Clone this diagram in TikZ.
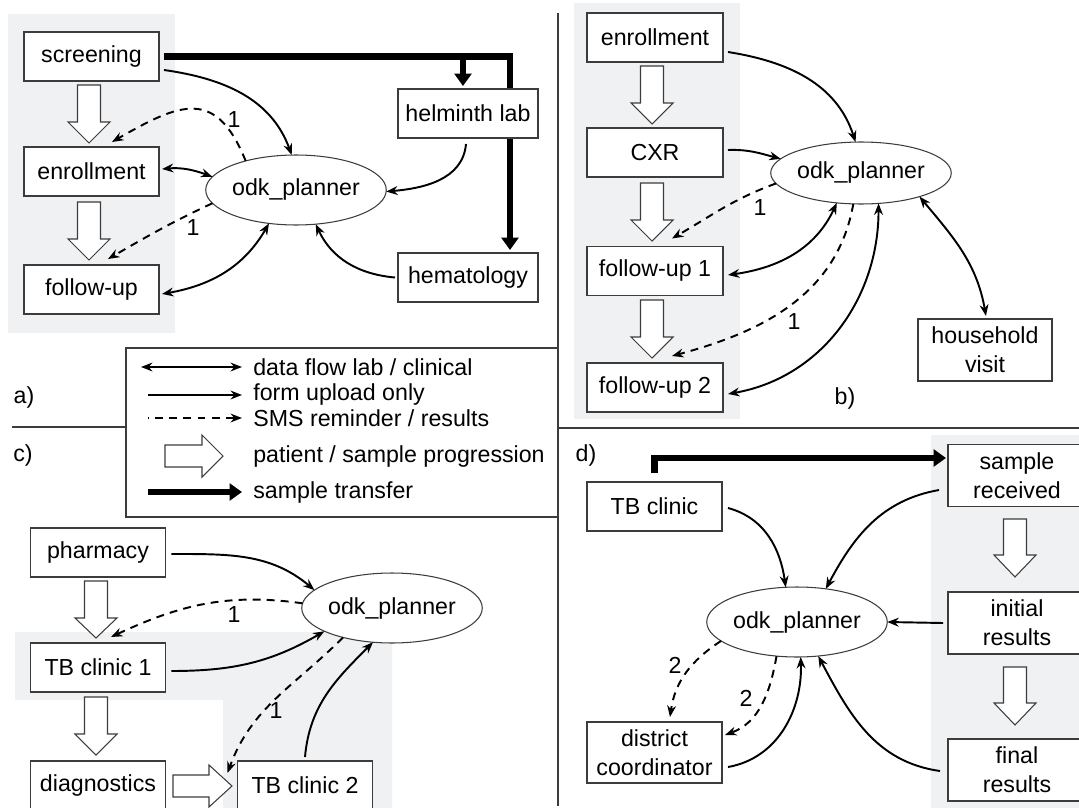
\documentclass[tikz,border=0pt]{standalone}
\usepackage{fontspec}
\setmainfont{Liberation Sans}
\usetikzlibrary{arrows.meta,shapes.geometric}
\pgfdeclarelayer{bg}
\pgfsetlayers{bg,main}
\definecolor{greybg}{RGB}{240,241,243}
\definecolor{linegrey}{RGB}{60,60,60}
\newcommand{\fs}{\fontsize{13.2}{16.5}\selectfont}
% hollow progression arrows (page px, y down)
\newcommand{\hollowdn}[4]{%
  \draw[hollow] (#1-11.5,-#2) -- (#1+11.5,-#2) -- (#1+11.5,-#3) -- (#1+21,-#3) -- (#1,-#4) -- (#1-21,-#3) -- (#1-11.5,-#3) -- cycle;}
\newcommand{\hollowrt}[4]{%
  \draw[hollow] (#2,-#1+11) -- (#3,-#1+11) -- (#3,-#1+21) -- (#4,-#1) -- (#3,-#1-21) -- (#3,-#1-11) -- (#2,-#1-11) -- cycle;}
\tikzset{
  box/.style={draw=linegrey, line width=0.6pt, fill=white, minimum width=2.7cm, minimum height=0.98cm, inner sep=0pt, outer sep=0pt, align=center, font=\fs},
  boxtwo/.style={box, minimum height=1.24cm},
  planner/.style={ellipse, draw=linegrey, line width=0.6pt, fill=white, minimum width=3.12cm, minimum height=1.4cm, inner sep=0pt, outer sep=0pt, font=\fs},
  flow/.style={line width=1.1pt, -{Stealth[length=6.5pt,width=5pt]}},
  bidir/.style={line width=1.1pt, {Stealth[length=6.5pt,width=5pt]}-{Stealth[length=6.5pt,width=5pt]}},
  sms/.style={flow, dash pattern=on 4.5pt off 3.5pt},
  xfer/.style={line width=3.9pt, -{Triangle[length=7pt,width=9.5pt]}},
  hollow/.style={draw=linegrey, line width=0.6pt, fill=white, line join=miter},
  lbl/.style={font=\fs, inner sep=0pt},
  sepline/.style={draw=linegrey, line width=0.8pt},
}
\begin{document}
\begin{tikzpicture}[x=0.02cm, y=0.02cm]
\useasboundingbox (0,0) rectangle (1079,-808);
\clip (0,0) rectangle (1079,-808);

% grey backgrounds
\begin{pgfonlayer}{bg}
\fill[white] (0,0) rectangle (1079,-808);
\fill[greybg] (8,-14) rectangle (175,-333);
\fill[greybg] (574,-3) rectangle (740,-419);
\fill[greybg] (15,-632) -- (392,-632) -- (392,-808) -- (223,-808) -- (223,-700) -- (15,-700) -- cycle;
\fill[greybg] (931,-435) rectangle (1079,-808);
\end{pgfonlayer}

% separators and legend frame
\draw[sepline] (558,-13) -- (558,-806);
\draw[sepline] (12,-427) -- (126,-427);
\draw[sepline] (558,-428) -- (1079,-428);
\draw[sepline] (126,-348) rectangle (558,-517);

% ---------- panel a ----------
\node[box] (scr) at (91.5,-56.5) {screening};
\node[box] (enrA) at (91.5,-171.5) {enrollment};
\node[box] (fupA) at (91.5,-289.5) {follow-up};
\node[box, minimum width=2.8cm] (helm) at (468,-113.5) {helminth lab};
\node[box, minimum width=2.8cm] (hema) at (468,-277.5) {hematology};
\node[planner] (odkA) at (296,-190) {odk\_planner};
\hollowdn{89}{85}{122}{143}
\hollowdn{89}{202}{239}{260}
\begin{pgfonlayer}{bg}
\draw[xfer, line join=miter] ([shift={(5,0)}]scr.east) -| ([shift={(42,3)}]hema.north);
\draw[xfer] ([shift={(-5,0)}]helm.north |- scr.east) -- ([shift={(-5,3)}]helm.north);
\end{pgfonlayer}
\draw[flow] ([shift={(5,-13.5)}]scr.east) to[out=-8,in=110] (odkA.97);
\draw[bidir] ([shift={(3,2.5)}]enrA.east) to[out=5,in=160] (odkA.171);
\draw[bidir] ([shift={(3,-4.5)}]fupA.east) to[out=10,in=-120] (odkA.231);
\draw[flow] ([shift={(-2,-6)}]helm.south) to[out=-95,in=5] (odkA.-1);
\draw[flow] ([shift={(-3,0)}]hema.west) to[out=175,in=-65] (odkA.-60);
\draw[sms] (odkA.150) to[out=112,in=30,looseness=1.5] ([shift={(20.5,5)}]enrA.north);
\draw[sms] (odkA.189) to[out=205,in=30] ([shift={(16.5,6)}]fupA.north);
\node[lbl] (na1) at (234,-120) {1};
\node[lbl] (na2) at (193,-228) {1};
\node[lbl] (la) at (24,-397) {a)};

% ---------- panel b ----------
\node[box, minimum width=2.72cm] (enrB) at (655,-37.5) {enrollment};
\node[box, minimum width=2.72cm] (cxr) at (655,-152.5) {CXR};
\node[box, minimum width=2.72cm] (fu1) at (655,-271) {follow-up 1};
\node[box, minimum width=2.72cm] (fu2) at (655,-387.5) {follow-up 2};
\node[boxtwo, minimum width=2.68cm] (hh) at (985,-350) {household\\visit};
\node[planner, minimum height=1.24cm] (odkB) at (861,-173) {odk\_planner};
\hollowdn{652}{66}{103}{124}
\hollowdn{652}{183}{220}{241}
\hollowdn{652}{300}{337}{358}
\draw[flow] ([shift={(5,-14.5)}]enrB.east) to[out=-9,in=108] (odkB.100);
\draw[flow] ([shift={(5,2.5)}]cxr.east) to[out=2,in=165] (odkB.170);
\draw[sms] (odkB.187) to[out=200,in=30] ([shift={(17,8)}]fu1.north);
\draw[bidir] ([shift={(5,-4)}]fu1.east) to[out=8,in=-115] (odkB.231);
\draw[sms] (odkB.256) to[out=-100,in=15] ([shift={(17,7)}]fu2.north);
\draw[bidir] ([shift={(5,-6.5)}]fu2.east) to[out=10,in=-90] (odkB.-60);
\draw[bidir] ([shift={(1,3)}]hh.north) to[out=100,in=-50] (odkB.-22);
\node[lbl] (nb1) at (760,-208) {1};
\node[lbl] (nb2) at (794,-322) {1};
\node[lbl] (lb) at (845,-398) {b)};

% ---------- legend ----------
\coordinate (g1a) at (141,-367); \coordinate (g1b) at (242,-367);
\coordinate (g2a) at (148,-395); \coordinate (g2b) at (242,-395);
\coordinate (g3a) at (148,-418); \coordinate (g3b) at (242,-418);
\coordinate (g5a) at (148,-492); \coordinate (g5b) at (242,-492);
\draw[bidir] (g1a) -- (g1b);
\draw[flow] (g2a) -- (g2b);
\draw[sms, dash phase=3.8pt] (g3a) -- (g3b);
\hollowrt{456}{165}{202}{223}
\draw[xfer] (g5a) -- (g5b);
\node[lbl, anchor=west] (t1) at (253,-367) {data flow lab / clinical};
\node[lbl, anchor=west] (t2) at (253,-395) {form upload only};
\node[lbl, anchor=west] (t3) at (253,-418) {SMS reminder / results};
\node[lbl, anchor=west] (t4) at (253,-457) {patient / sample progression};
\node[lbl, anchor=west] (t5) at (253,-492) {sample transfer};

% ---------- panel c ----------
\node[box] (pharm) at (98,-552.5) {pharmacy};
\node[box] (tb1) at (98,-667.5) {TB clinic 1};
\node[box] (diag) at (98,-785.5) {diagnostics};
\node[box] (tb2) at (305,-785.5) {TB clinic 2};
\node[planner] (odkC) at (392,-608) {odk\_planner};
\hollowdn{96}{581}{618}{638}
\hollowdn{96}{697}{734}{755}
\hollowrt{786}{173}{209}{232}
\draw[flow] ([shift={(6,-1.5)}]pharm.east) to[out=0,in=140] (odkC.167);
\draw[sms] (odkC.177) to[out=172,in=25] ([shift={(13,6)}]tb1.north);
\draw[flow] ([shift={(6,-3.5)}]tb1.east) to[out=0,in=-150] (odkC.199);
\draw[sms] (odkC.211) to[out=225,in=70] ([shift={(-10,12.5)}]tb2.west);
\draw[flow] ([shift={(0,4)}]tb2.north) to[out=85,in=-135] (odkC.241);
\node[lbl] (nc1) at (234,-615) {1};
\node[lbl] (nc2) at (276,-711) {1};
\node[lbl] (lc) at (23,-455) {c)};

% ---------- panel d ----------
\node[box] (tbc) at (654.5,-506.5) {TB clinic};
\node[boxtwo, minimum width=2.76cm] (samp) at (1017,-475.5) {sample\\received};
\node[boxtwo, minimum width=2.76cm] (init) at (1017,-623) {initial\\results};
\node[boxtwo, minimum width=2.76cm] (final) at (1017,-770) {final\\results};
\node[boxtwo, minimum height=1.22cm] (dist) at (654.5,-752.5) {district\\coordinator};
\node[planner] (odkD) at (797,-622) {odk\_planner};
\hollowdn{1015}{519}{555}{577}
\hollowdn{1015}{667}{703}{725}
\begin{pgfonlayer}{bg}
\draw[xfer, line join=miter] ([shift={(0,9)}]tbc.north) |- ([shift={(-2,17.5)}]samp.west);
\end{pgfonlayer}
\draw[flow] ([shift={(6,-1.5)}]tbc.east) to[out=-15,in=98] (odkD.108);
\draw[flow] ([shift={(-9,-14.5)}]samp.west) to[out=190,in=62] (odkD.49);
\draw[flow] ([shift={(-5,0)}]init.west) -- (odkD.east);
\draw[flow] ([shift={(-8,-1)}]final.west) to[out=172,in=-62] (odkD.-58);
\draw[flow] ([shift={(6,-14.5)}]dist.east) to[out=10,in=-88] (odkD.-84);
\draw[sms] (odkD.194) to[out=213,in=82] ([shift={(15.5,5)}]dist.north);
\draw[sms] (odkD.239) to[out=260,in=20] ([shift={(3,17.5)}]dist.east);
\node[lbl] (nd1) at (675,-665) {2};
\node[lbl] (nd2) at (746,-698) {2};
\node[lbl] (ld) at (586,-455) {d)};
\end{tikzpicture}
\end{document}
